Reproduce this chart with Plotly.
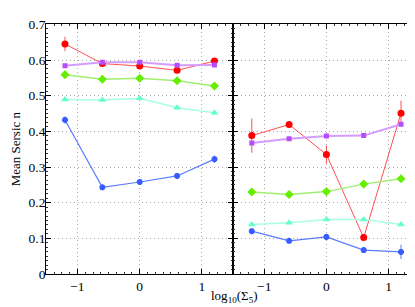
import plotly.graph_objects as go
from plotly.subplots import make_subplots

x_vals = [-1.2, -0.6, 0.0, 0.6, 1.2]

# Left panel
left_red = [0.645, 0.590, 0.583, 0.571, 0.597]
left_red_err = [0.020, 0.008, 0.008, 0.007, 0.008]
left_purple = [0.584, 0.594, 0.594, 0.585, 0.586]
left_purple_err = [0.004, 0.004, 0.004, 0.004, 0.004]
left_green = [0.559, 0.546, 0.549, 0.542, 0.527]
left_green_err = [0.006, 0.006, 0.006, 0.006, 0.006]
left_cyan = [0.489, 0.488, 0.493, 0.466, 0.452]
left_cyan_err = [0.005, 0.005, 0.005, 0.005, 0.005]
left_blue = [0.432, 0.243, 0.258, 0.275, 0.322]
left_blue_err = [0.010, 0.006, 0.007, 0.008, 0.010]

# Right panel
right_red = [0.388, 0.419, 0.335, 0.102, 0.451]
right_red_err = [0.048, 0.006, 0.025, 0.006, 0.035]
right_purple = [0.367, 0.379, 0.387, 0.388, 0.420]
right_purple_err = [0.004, 0.004, 0.004, 0.004, 0.004]
right_green = [0.230, 0.223, 0.231, 0.252, 0.267]
right_green_err = [0.004, 0.004, 0.004, 0.004, 0.004]
right_cyan = [0.139, 0.144, 0.153, 0.153, 0.139]
right_cyan_err = [0.004, 0.004, 0.004, 0.004, 0.004]
right_blue = [0.120, 0.093, 0.104, 0.067, 0.062]
right_blue_err = [0.005, 0.005, 0.006, 0.008, 0.020]

y_ticks = [0, 0.1, 0.2, 0.3, 0.4, 0.5, 0.6, 0.7]
y_tick_labels = ["0", "0.1", "0.2", "0.3", "0.4", "0.5", "0.6", "0.7"]
x_ticks = [-1, 0, 1]
x_tick_labels = ["\u22121", "0", "1"]

styles = [
    ("red", "#ff0000", "#ff5050", "circle", 7, 1),
    ("purple", "#b84cff", "#d49cff", "square", 5, 2),
    ("green", "#66ee00", "#a0ee70", "diamond", 7, 1.5),
    ("cyan", "#66ffcc", "#a8ffe4", "triangle-up", 7, 1.5),
    ("blue", "#3a5cff", "#5a7cff", "asterisk-open", 5, 1.2),
]

left = [(left_red, left_red_err), (left_purple, left_purple_err), (left_green, left_green_err),
        (left_cyan, left_cyan_err), (left_blue, left_blue_err)]
right = [(right_red, right_red_err), (right_purple, right_purple_err), (right_green, right_green_err),
         (right_cyan, right_cyan_err), (right_blue, right_blue_err)]

fig = make_subplots(rows=1, cols=2, shared_yaxes=True, horizontal_spacing=0)

for col, data in ((1, left), (2, right)):
    for (name, mcol, lcol, sym, size, lw), (yv, ev) in zip(styles, data):
        marker = dict(color=mcol, symbol=sym, size=size)
        if sym.endswith("open"):
            marker["line"] = dict(color=mcol, width=2)
        fig.add_trace(go.Scatter(
            x=x_vals, y=yv, mode="lines+markers", name=name, showlegend=False,
            line=dict(color=lcol, width=lw), marker=marker,
            error_y=dict(type="data", array=ev, visible=True, color=lcol, thickness=1, width=0),
        ), row=1, col=col)

font = dict(family="Liberation Serif", size=13.5, color="black")
grid_dash = "1px,3px"

axis_common = dict(
    range=[-1.5, 1.5], tickvals=x_ticks, ticktext=x_tick_labels, ticks="inside", ticklen=5,
    tickwidth=1, tickcolor="black",
    showline=True, linecolor="black", linewidth=1.3, mirror="ticks",
    showgrid=True, gridcolor="#a8a8a8", griddash=grid_dash, gridwidth=1, zeroline=False,
    minor=dict(dtick=0.125, ticks="inside", ticklen=2, tickwidth=1, showgrid=False, tickcolor="#333333"),
    tickfont=font,
)
fig.update_xaxes(**axis_common, domain=[0.0923, 0.5425], row=1, col=1)
fig.update_xaxes(**axis_common, domain=[0.5425, 0.992], row=1, col=2)

yaxis_common = dict(
    range=[0, 0.7], tickvals=y_ticks, ticks="inside", ticklen=5,
    tickwidth=1, tickcolor="black",
    showline=True, linecolor="black", linewidth=1.3, mirror="ticks",
    showgrid=True, gridcolor="#a8a8a8", griddash=grid_dash, gridwidth=1, zeroline=False,
    minor=dict(dtick=0.0125, ticks="inside", ticklen=2, tickwidth=1, showgrid=False, tickcolor="#333333"),
    tickfont=font,
    domain=[0.113, 0.968],
)
fig.update_yaxes(**yaxis_common, ticktext=y_tick_labels, ticklabelstandoff=-3, row=1, col=1)
fig.update_yaxes(**yaxis_common, showticklabels=False, row=1, col=2)
fig.update_yaxes(title=dict(text="Mean Sersic n", font=dict(family="Liberation Serif", size=13, color="black"),
                            standoff=6), row=1, col=1)

fig.add_annotation(
    text="log<sub>10</sub>(\u03a3<sub>5</sub>)", xref="paper", yref="paper",
    x=0.545, y=0.0, xanchor="center", yanchor="bottom", showarrow=False,
    font=dict(family="Liberation Serif", size=13, color="black"),
)

fig.update_layout(
    width=415, height=307, margin=dict(l=0, r=0, t=0, b=0),
    paper_bgcolor="white", plot_bgcolor="white",
)

fig.write_html("out.html")
